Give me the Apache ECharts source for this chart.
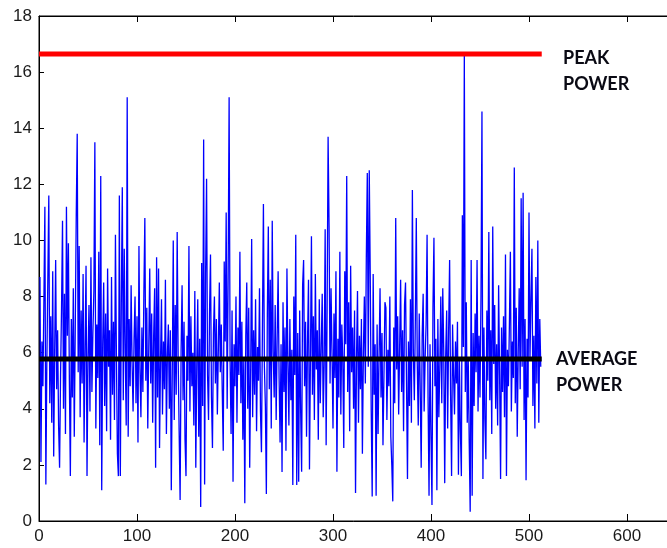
<!DOCTYPE html>
<html>
<head>
<meta charset="utf-8">
<script src="https://cdn.jsdelivr.net/npm/echarts@6/dist/echarts.min.js"></script>
<style>
  html, body { margin: 0; padding: 0; background: #fff; }
  #chart { width: 667px; height: 548px; }
</style>
</head>
<body>
<div id="chart"></div>
<script>
// instantaneous power samples (sample 1..512)
const power = [
  8.7, 2.1, 6.4, 4.8, 7.9, 11.2, 1.3, 5.6, 8.6, 11.6, 4.2, 7.3, 3.5, 8.9, 2.3, 6.1,
  9.3, 4.7, 6.8, 3.4, 1.9, 5.2, 7.6, 10.7, 4.0, 8.1, 3.1, 11.2, 6.6, 9.9, 5.0, 1.6,
  7.2, 4.4, 8.3, 3.0, 6.9, 10.9, 13.8, 5.3, 9.8, 3.7, 7.5, 4.9, 8.8, 2.8, 6.2, 9.1,
  1.6, 5.8, 7.7, 3.9, 9.4, 4.6, 6.7, 8.2, 13.5, 3.3, 7.0, 5.1, 9.6, 2.7, 12.3, 1.1,
  6.3, 8.5, 4.1, 7.4, 3.2, 9.0, 5.5, 6.8, 2.9, 8.7, 4.5, 7.1, 3.6, 10.2, 5.9, 2.4,
  1.6, 11.6, 1.6, 7.8, 11.9, 4.3, 9.7, 6.0, 3.4, 15.1, 3.0, 7.2, 4.8, 8.4, 5.6, 3.9,
  6.5, 8.0, 4.2, 7.3, 2.8, 9.8, 5.4, 3.7, 6.9, 4.6, 8.1, 10.8, 5.0, 7.6, 3.3, 6.2,
  9.0, 4.9, 7.4, 3.5, 6.6, 8.3, 1.9, 9.4, 4.4, 9.0, 2.6, 5.7, 7.9, 3.8, 6.4, 4.7,
  8.6, 3.1, 5.9, 7.0, 4.0, 6.8, 1.1, 5.3, 10.0, 3.6, 7.7, 4.5, 10.3, 5.8, 3.2, 0.75,
  6.1, 8.4, 4.3, 7.1, 2.9, 1.6, 6.6, 5.0, 9.8, 3.9, 7.3, 4.8, 6.0, 3.4, 8.2, 1.9,
  5.6, 7.9, 3.0, 6.5, 0.5, 9.2, 4.1, 13.6, 1.3, 8.8, 12.2, 5.2, 3.6, 7.4, 9.5, 4.4,
  2.6, 6.7, 8.0, 4.9, 7.2, 3.8, 6.1, 8.5, 5.3, 7.0, 4.6, 2.5, 9.25, 6.4, 11.0, 4.0,
  8.7, 15.1, 5.7, 3.1, 7.5, 1.4, 6.3, 4.8, 8.0, 3.5, 6.9, 5.2, 9.6, 4.2, 7.1, 2.9,
  5.8, 0.63, 6.6, 8.5, 4.0, 7.6, 1.9, 5.4, 10.05, 3.7, 6.8, 4.5, 7.9, 3.2, 6.2, 5.0,
  8.3, 3.9, 2.45, 7.0, 11.3, 5.5, 4.1, 0.96, 7.4, 10.5, 4.7, 8.6, 3.3, 10.7, 6.0, 4.4,
  7.7, 3.6, 6.5, 8.9, 5.1, 2.8, 6.3, 1.75, 7.8, 4.6, 6.9, 2.5, 9.0, 5.6, 3.4, 7.2,
  4.3, 6.1, 1.28, 8.0, 5.2, 10.2, 1.28, 6.7, 1.4, 7.5, 3.9, 1.76, 8.4, 9.3, 4.8, 7.1,
  3.0, 6.4, 8.6, 1.84, 5.9, 10.15, 4.5, 7.3, 3.6, 8.8, 5.4, 6.8, 2.9, 7.9, 4.2, 6.2,
  8.1, 3.7, 5.6, 10.4, 2.7, 7.6, 13.7, 10.5, 4.9, 8.3, 6.0, 3.3, 7.4, 5.1, 8.9, 1.76,
  6.5, 4.4, 9.6, 3.8, 7.0, 5.7, 2.6, 8.9, 6.3, 12.3, 4.6, 7.8, 3.2, 9.1, 5.3, 6.9,
  4.0, 7.5, 1.0, 5.8, 8.2, 3.5, 6.6, 4.7, 7.2, 2.4, 6.0, 8.0, 4.9, 9.4, 12.4, 5.5,
  12.5, 8.8, 3.9, 0.87, 8.8, 4.5, 6.3, 0.9, 7.0, 3.1, 5.9, 8.3, 4.4, 6.7, 2.7, 5.2,
  7.8, 7.6, 3.6, 6.1, 4.8, 8.0, 3.0, 2.0, 0.7, 6.9, 4.2, 10.8, 5.4, 7.3, 3.8, 6.2,
  8.6, 4.6, 6.8, 3.2, 7.7, 8.5, 5.0, 1.5, 6.4, 4.1, 7.9, 3.5, 11.8, 6.0, 4.3, 7.1,
  10.8, 5.6, 3.4, 7.4, 4.7, 1.9, 6.6, 8.1, 3.9, 5.8, 7.0, 10.2, 4.4, 0.9, 6.3, 3.0,
  0.57, 7.6, 10.1, 4.8, 6.5, 1.1, 7.2, 3.7, 5.5, 8.0, 4.2, 8.3, 6.1, 1.35, 5.9, 7.5,
  3.3, 6.8, 9.3, 4.5, 1.6, 7.0, 5.2, 3.8, 6.4, 4.9, 7.1, 1.65, 5.7, 3.2, 1.6, 10.9,
  6.2, 16.6, 4.6, 7.8, 3.5, 5.8, 2.8, 0.33, 9.3, 0.9, 6.7, 4.1, 7.4, 5.3, 9.3, 3.9,
  6.6, 4.4, 8.0, 14.6, 1.5, 6.9, 3.6, 2.2, 7.5, 5.0, 10.3, 4.3, 6.8, 3.1, 10.5, 5.6,
  7.7, 4.0, 6.3, 3.4, 8.4, 5.2, 1.5, 6.9, 4.6, 7.3, 3.7, 9.5, 1.6, 6.1, 4.8, 7.0,
  9.6, 3.9, 6.4, 5.1, 12.6, 4.2, 7.6, 3.0, 6.0, 8.3, 4.7, 11.5, 5.5, 11.7, 3.6, 7.2,
  1.45, 6.5, 4.4, 11.0, 5.8, 7.9, 9.7, 4.1, 6.6, 3.3, 8.7, 4.9, 10.0, 3.5, 7.2, 5.5
];

// reference levels drawn as thick horizontal lines
const peakLevel = 16.65;
const avgLevel = 5.77;
const levelSpan = [0, 513];

const xTicks = { min: 0, max: 700, interval: 100 };
const yTicks = { min: 0, max: 18, interval: 2 };

const labelFont = 'Liberation Sans, Arial, sans-serif';
const noteFont = 'Lato, Calibri, sans-serif';

var chart = echarts.init(document.getElementById('chart'), null, { renderer: 'canvas' });

var option = {
  animation: false,
  backgroundColor: '#fff',
  grid: {
    left: 39,
    top: 16,
    width: 686,   // 100 units = 98px, right edge runs past the canvas
    height: 505,
    outerBoundsMode: 'none',
    containLabel: false,
    show: true,
    borderColor: '#000',
    borderWidth: 1,
    backgroundColor: 'transparent'
  },
  xAxis: [
    {
      type: 'value',
      min: xTicks.min,
      max: xTicks.max,
      interval: xTicks.interval,
      splitLine: { show: false },
      axisLine: { show: true, lineStyle: { color: '#000', width: 1 } },
      axisTick: { show: true, inside: true, length: 7, lineStyle: { color: '#000' } },
      axisLabel: { color: '#1a1a1a', fontFamily: labelFont, fontSize: 17, margin: 7 }
    },
    {
      // box top edge with its own ticks, like the matlab frame
      type: 'value',
      position: 'top',
      min: xTicks.min,
      max: xTicks.max,
      interval: xTicks.interval,
      splitLine: { show: false },
      axisLine: { show: true, lineStyle: { color: '#000', width: 1 } },
      axisTick: { show: true, inside: true, length: 6, lineStyle: { color: '#000' } },
      axisLabel: { show: false }
    }
  ],
  yAxis: {
    type: 'value',
    min: yTicks.min,
    max: yTicks.max,
    interval: yTicks.interval,
    splitLine: { show: false },
    axisLine: { show: true, lineStyle: { color: '#000', width: 1 } },
    axisTick: { show: true, inside: true, length: 5, lineStyle: { color: '#000' } },
    axisLabel: { color: '#1a1a1a', fontFamily: labelFont, fontSize: 17, margin: 7 }
  },
  series: [
    {
      name: 'power',
      type: 'line',
      data: power.map(function (v, i) { return [i + 1, v]; }),
      showSymbol: false,
      symbol: 'none',
      lineStyle: { color: '#0000ff', width: 1.3 },
      z: 2
    },
    {
      name: 'peak',
      type: 'line',
      data: levelSpan.map(function (x) { return [x, peakLevel]; }),
      symbol: 'none',
      lineStyle: { color: '#ff0000', width: 5 },
      z: 3
    },
    {
      name: 'average',
      type: 'line',
      data: levelSpan.map(function (x) { return [x, avgLevel]; }),
      symbol: 'none',
      lineStyle: { color: '#000000', width: 5 },
      z: 3
    }
  ],
  graphic: [
    {
      type: 'text', left: 563, top: 45,
      style: { text: 'PEAK\nPOWER', fill: '#0a0a14', font: 'bold 18px ' + noteFont, lineHeight: 26 }
    },
    {
      type: 'text', left: 556, top: 346,
      style: { text: 'AVERAGE\nPOWER', fill: '#0a0a14', font: 'bold 18px ' + noteFont, lineHeight: 26 }
    }
  ]
};

option && chart.setOption(option);
</script>
</body>
</html>
